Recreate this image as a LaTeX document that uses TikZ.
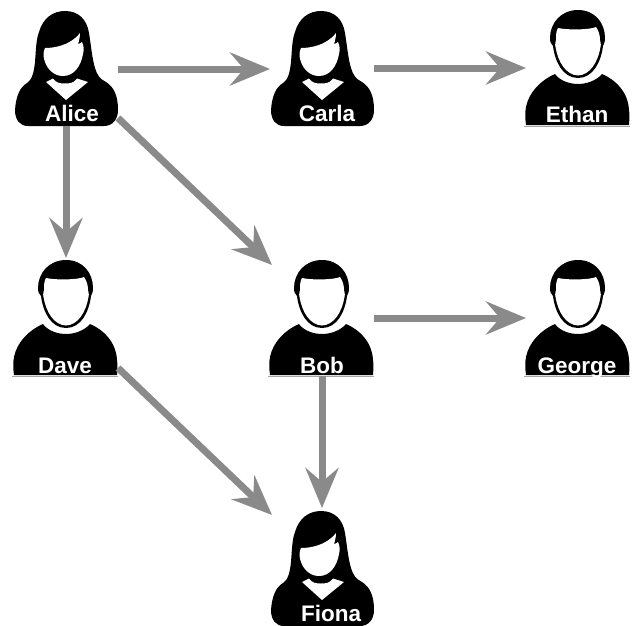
\documentclass[tikz,border=0pt]{standalone}
\usepackage{fontspec}
\setmainfont{Liberation Sans}
\usetikzlibrary{arrows.meta}
\definecolor{arrowgray}{HTML}{8A8A8A}
\tikzset{
  x=1pt,y=-1pt,
  person/.style={minimum width=104pt,minimum height=116pt,inner sep=0pt,outer sep=0pt},
  lbl/.style={text=white,font=\fontsize{22.5}{24}\selectfont\bfseries,inner sep=0pt,anchor=base},
  link/.style={draw=arrowgray,line width=7pt,-{Stealth[length=40pt,width=33pt,inset=14pt]}},
  woman/.pic={
    \begin{scope}[shift={(-66,-68)}]
    \fill[black] (65,11) .. controls (79,11) and (87,20) .. (89,33)
      .. controls (91,45) and (92,58) .. (95,68)
      .. controls (97,75) and (100,79) .. (106,82)
      .. controls (114,87) and (118,96) .. (118,110)
      .. controls (118,120) and (112,126) .. (104,126)
      -- (28,126)
      .. controls (20,126) and (15,120) .. (15,110)
      .. controls (16,96) and (20,87) .. (27,83)
      .. controls (32,80) and (34,72) .. (35,62)
      .. controls (36,50) and (36,40) .. (39,32)
      .. controls (43,18) and (53,11) .. (65,11) -- cycle;
    \fill[white] (45,48) .. controls (53,48) and (70,46) .. (80,33)
      .. controls (80,37) and (79,41) .. (78,44)
      .. controls (79,44) and (81,43) .. (82,42)
      .. controls (84,46) and (84,50) .. (83,54)
      .. controls (81,66) and (74,76) .. (63,76)
      .. controls (53,76) and (47,68) .. (45,62)
      .. controls (43,57) and (43,52) .. (45,48) -- cycle;
    \fill[white] (46,82) -- (53,78.5) .. controls (56,83) and (60,83.5) .. (65,83.5)
      .. controls (70,83.5) and (74,83) .. (77,78.5) -- (88,82) -- (66,100) -- cycle;
    \end{scope}
  },
  man/.pic={
    \begin{scope}[shift={(-578,-68)}]
    \fill[black] (578,10) .. controls (595,10) and (605,23) .. (605,38)
      .. controls (605,42) and (604,44) .. (603,46)
      .. controls (601,62) and (593,78) .. (578,78)
      .. controls (563,78) and (555,62) .. (553,46)
      .. controls (551,44) and (550,42) .. (550,38)
      .. controls (550,23) and (561,10) .. (578,10) -- cycle;
    \fill[white] (558,28) .. controls (566,30) and (590,30) .. (596,27)
      .. controls (599,31) and (600,36) .. (600,40)
      .. controls (601,44) and (601,46) .. (600.5,47)
      .. controls (598,62) and (590,75) .. (578,75.5)
      .. controls (566,75) and (558,62) .. (555.5,47)
      .. controls (555,46) and (555,44) .. (556,40)
      .. controls (556,36) and (556,31) .. (558,28) -- cycle;
    \fill[black] (555,74) .. controls (560,81) and (570,84) .. (578,84)
      .. controls (586,84) and (596,81) .. (602,74)
      .. controls (616,80) and (628,92) .. (629,110)
      .. controls (630,118) and (629,122) .. (629,125)
      -- (526,125)
      .. controls (525,118) and (525,112) .. (526,107)
      .. controls (529,92) and (541,80) .. (555,74) -- cycle;
    \draw[gray!70,line width=1pt] (524,126) -- (630,126);
    \end{scope}
  }
}
\begin{document}
\begin{tikzpicture}
\useasboundingbox (0,0) rectangle (632,625);
\node[person] (alice) at (66,68) {};
\node[person] (carla) at (322,68) {};
\node[person] (ethan) at (578,68) {};
\node[person] (dave) at (66,318) {};
\node[person] (bob) at (322,318) {};
\node[person] (george) at (578,318) {};
\node[person] (fiona) at (322,568) {};
\pic at (alice) {woman};
\pic at (carla) {woman};
\pic at (fiona) {woman};
\pic at (ethan) {man};
\pic at (dave) {man};
\pic at (bob) {man};
\pic at (george) {man};
\node[lbl] (lalice) at (72,121) {Alice};
\node[lbl] (lcarla) at (327,121) {Carla};
\node[lbl] (lethan) at (577,122) {Ethan};
\node[lbl] (ldave) at (65,373) {Dave};
\node[lbl] (lbob) at (322,373) {Bob};
\node[lbl] (lgeorge) at (577,373) {George};
\node[lbl] (lfiona) at (331,621) {Fiona};
\draw[link] ([yshift=-1pt]alice.east) -- ([yshift=-1pt]carla.west);
\draw[link] (carla.east) -- (ethan.west);
\draw[link] (alice.south) -- ([yshift=2pt]dave.north);
\draw[link] ([yshift=8pt]alice.south east) -- ([shift={(2,5)}]bob.north west);
\draw[link] (bob.east) -- (george.west);
\draw[link] (bob.south) -- ([yshift=2pt]fiona.north);
\draw[link] ([yshift=8pt]dave.south east) -- ([shift={(2,5)}]fiona.north west);
\end{tikzpicture}
\end{document}
